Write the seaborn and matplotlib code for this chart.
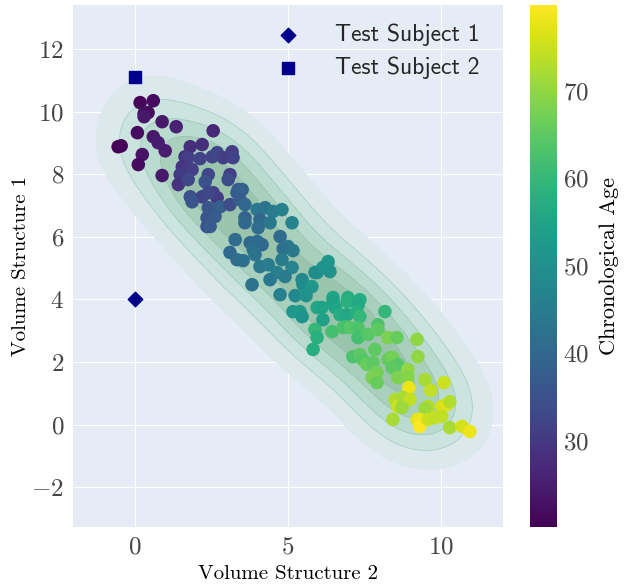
import matplotlib
matplotlib.use("Agg")
import matplotlib.pyplot as plt
import numpy as np
import pandas as pd
import seaborn as sns

vol_2 = [0.16, 0.59, 0.29, 0.42, 0.29, 0.88, 1.34, 2.55, 0.07, 0.59,
         -0.56, -0.46, 0.75, 0.98, 0.23, 0.10, 0.88,
         1.80, 2.19, 1.63, 1.73, 2.12, 2.52, 2.68, 2.88, 3.17, 3.20,
         1.54, 1.70, 1.47, 1.86, 2.39, 2.29, 3.10, 3.04, 1.41, 1.73,
         3.37, 1.80, 2.19, 2.68, 1.86, 2.55, 2.39, 2.39, 2.78, 3.10,
         3.33, 3.50, 3.43, 3.59, 3.99, 4.25, 4.51, 4.80, 5.13, 2.35,
         2.61, 2.35, 2.45, 3.59, 3.59, 4.08, 4.41, 4.02, 3.27, 3.76,
         3.99, 4.15, 3.86, 4.74, 5.00, 4.84, 5.16, 3.10, 3.33, 3.53,
         3.92, 4.80, 4.08, 4.35, 5.13, 4.64, 4.90, 4.41, 3.82, 5.46,
         5.49, 5.88, 6.31, 6.27, 6.37, 5.78, 4.74, 5.23, 5.59, 6.47,
         6.96, 5.95, 6.14, 5.95, 6.11, 6.47, 6.54, 6.93, 7.35, 7.29,
         5.16, 5.39, 5.46, 6.14, 6.70, 6.93, 7.25, 7.35, 8.17, 5.88,
         5.95, 6.44, 6.80, 6.93, 7.03, 7.29, 7.29, 7.61, 7.94, 7.94,
         8.27, 8.56, 5.82, 7.12, 7.35, 7.84, 8.33, 9.22, 7.45, 7.58,
         7.78, 8.27, 8.43, 8.59, 8.40, 9.25, 7.91, 7.75, 7.91, 8.59,
         8.92, 8.92, 9.48, 10.10, 8.95, 9.67, 8.50, 8.59, 8.76, 8.99,
         8.73, 9.58, 9.48, 10.03, 10.20, 10.29, 8.43, 9.22, 9.31, 9.31,
         9.58, 9.80, 10.03, 10.29, 10.69, 10.95]
vol_1 = [10.29, 10.35, 9.94, 9.97, 9.84, 9.68, 9.52, 9.39, 9.33, 9.20,
         8.88, 8.91, 9.01, 8.75, 8.63, 8.31, 7.96,
         8.88, 8.95, 8.56, 8.53, 8.50, 8.56, 8.69, 8.53, 8.72, 8.53,
         8.24, 8.15, 7.99, 8.15, 7.99, 7.76, 7.99, 7.83, 7.67, 7.83,
         7.51, 7.28, 7.28, 7.25, 7.12, 7.41, 7.41, 6.93, 6.96, 7.03,
         7.41, 7.51, 7.19, 7.03, 6.87, 6.93, 6.81, 6.87, 6.45, 6.61,
         6.65, 6.33, 6.33, 6.61, 6.45, 6.55, 6.45, 6.29, 5.91, 5.81,
         5.85, 5.75, 5.59, 6.01, 5.69, 5.62, 5.56, 5.50, 5.27, 5.24,
         5.43, 5.27, 5.05, 5.11, 5.02, 4.86, 4.73, 4.63, 4.47, 4.63,
         4.47, 4.86, 5.21, 5.05, 4.89, 4.41, 4.15, 4.12, 4.12, 4.06,
         4.06, 4.86, 5.02, 3.74, 3.74, 3.93, 3.74, 3.93, 3.99, 3.83,
         3.61, 3.61, 3.45, 3.35, 3.51, 3.51, 3.61, 3.45, 3.61, 3.04,
         2.78, 2.97, 3.10, 3.13, 3.10, 3.10, 2.78, 2.88, 3.19, 3.04,
         2.78, 2.78, 2.40, 2.17, 2.24, 2.40, 2.14, 2.72, 2.08, 1.92,
         1.98, 2.08, 2.14, 1.92, 1.82, 2.17, 1.66, 1.50, 1.34, 1.50,
         1.76, 1.53, 1.44, 1.34, 1.18, 1.09, 0.80, 0.58, 0.86, 0.80,
         0.54, 0.58, 0.51, 0.58, 0.64, 0.73, 0.16, 0.16, 0.16, -0.06,
         0.16, 0.22, 0.26, -0.10, -0.06, -0.22]
age = [21, 22, 23, 22, 24, 24, 26, 27, 22, 24,
       20.2, 21, 25, 25, 23, 22, 24,
       28, 28, 29, 31, 32, 32, 33, 31, 31, 32,
       29, 30, 30, 31, 33, 35, 31, 34, 29, 33,
       36, 35, 32, 30, 36, 31, 33, 36, 38, 34,
       37, 39, 37, 40, 44, 43, 45, 46, 47, 36,
       37, 35, 37, 39, 40, 40, 44, 41, 41, 40,
       41, 40, 42, 41, 44, 42, 44, 40, 41, 42,
       43, 45, 44, 45, 47, 46, 45, 44, 43, 48,
       49, 50, 52, 51, 50, 52, 46, 48, 50, 55,
       57, 49, 51, 56, 55, 54, 55, 58, 57, 56,
       52, 53, 51, 54, 57, 56, 58, 60, 60, 60,
       58, 62, 63, 62, 64, 63, 62, 64, 63, 65,
       68, 66, 57, 63, 65, 65, 67, 70, 64, 66,
       65, 66, 67, 64, 65, 70, 67, 68, 66, 68,
       70, 69, 72, 75, 78, 74, 73, 75, 72, 74,
       71, 73, 71, 76, 77, 73, 72, 77, 78, 79.8,
       75, 74, 74, 72, 76, 78]

# the two test subjects
subj1 = (0.0, 4.0)
subj2 = (0.0, 11.1)

df = pd.DataFrame({"Volume Structure 2": vol_2, "Volume Structure 1": vol_1, "Chronological Age": age})

sns.set_style("darkgrid", {"axes.facecolor": "#e5ecf6", "grid.color": "white"})
plt.rcParams["font.family"] = "serif"
plt.rcParams["font.serif"] = ["cmr10"]
plt.rcParams["mathtext.fontset"] = "cm"
plt.rcParams["axes.formatter.use_mathtext"] = True

fig = plt.figure(figsize=(6.31, 5.88), dpi=100)
ax = fig.add_axes([0.116, 0.104, 0.681, 0.888])
cax = fig.add_axes([0.840, 0.104, 0.043, 0.888])

# density of the cohort: product gaussian kernel, normal-reference bandwidth per axis
x = np.asarray(vol_2)
y = np.asarray(vol_1)
n = len(x)
hx = 0.95 * x.std(ddof=1) * n ** (-1 / 6)
hy = 0.95 * y.std(ddof=1) * n ** (-1 / 6)
gx, gy = np.meshgrid(np.linspace(-3, 13, 240), np.linspace(-4, 14, 240))
dens = np.zeros_like(gx)
for xi, yi in zip(x, y):
    dens += np.exp(-0.5 * (((gx - xi) / hx) ** 2 + ((gy - yi) / hy) ** 2))
dens /= n * 2 * np.pi * hx * hy
lev = np.linspace(0, dens.max(), 7)[1:]
band_colors = ["#dbe9ec", "#cce4df", "#badbcf", "#a9d0bd", "#9bc4ad"]
ax.contourf(gx, gy, dens, levels=lev, colors=band_colors, extend="max", zorder=1)
ax.contour(gx, gy, dens, levels=lev[1:], colors="#8fbfa8", linewidths=0.6, alpha=0.5, zorder=1)

norm = plt.Normalize(min(age), max(age))
sns.scatterplot(data=df, x="Volume Structure 2", y="Volume Structure 1",
                hue="Chronological Age", palette="viridis", hue_norm=norm,
                s=95, linewidth=0, legend=False, ax=ax, zorder=3)

ax.scatter([subj1[0]], [subj1[1]], marker="D", s=55, color="#00008b", label="Test Subject 1", zorder=4)
ax.scatter([subj2[0]], [subj2[1]], marker="s", s=65, color="#00008b", label="Test Subject 2", zorder=4)

ax.set_xlim(-2.03, 12.03)
ax.set_ylim(-3.27, 13.42)
ax.set_xticks([0, 5, 10])
ax.set_yticks([-2, 0, 2, 4, 6, 8, 10, 12])
ax.tick_params(labelsize=18, labelcolor="#444444", pad=3)
ax.set_xlabel("Volume Structure 2", fontsize=15, labelpad=5, color="black")
ax.set_ylabel("Volume Structure 1", fontsize=15, labelpad=1, color="black")
for s in ax.spines.values():
    s.set_visible(False)

ax.legend(loc="upper right", frameon=False, prop={"family": "cmss10", "size": 17},
          handletextpad=1.0, borderaxespad=0.4, labelspacing=0.45, bbox_to_anchor=(0.99, 1.0))

sm = plt.cm.ScalarMappable(cmap="viridis", norm=norm)
cb = fig.colorbar(sm, cax=cax)
cb.outline.set_visible(False)
cb.set_ticks([30, 40, 50, 60, 70])
cb.ax.tick_params(labelsize=18, labelcolor="#444444", length=0, pad=4)
cb.set_label("Chronological Age", fontsize=16, labelpad=8, color="black")

fig.savefig("out.png", dpi=100)
